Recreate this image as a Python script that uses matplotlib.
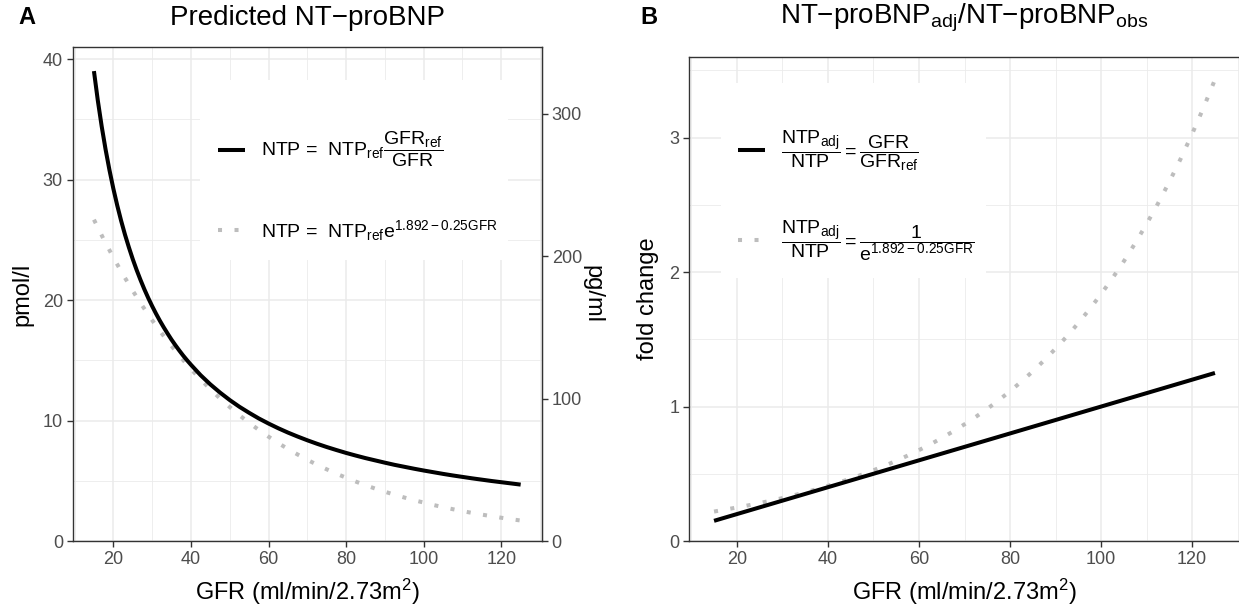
import matplotlib
matplotlib.use("Agg")
import matplotlib.pyplot as plt
from matplotlib.patches import Rectangle

plt.rcParams['font.family'] = ['Liberation Sans', 'DejaVu Sans']
plt.rcParams['mathtext.fontset'] = 'custom'
plt.rcParams['mathtext.rm'] = 'Liberation Sans'
plt.rcParams['mathtext.it'] = 'Liberation Sans'
plt.rcParams['mathtext.default'] = 'regular'

# ---- data ----
gfr_dense = [15, 16, 17, 18, 19, 20, 21, 22, 23, 24, 25, 26, 27, 28, 29, 30, 31, 32,
             33, 34, 35, 36, 37, 38, 39, 40, 42.5, 45, 47.5, 50, 52.5, 55, 57.5, 60,
             62.5, 65, 67.5, 70, 72.5, 75, 77.5, 80, 82.5, 85, 87.5, 90, 92.5, 95,
             97.5, 100, 102.5, 105, 107.5, 110, 112.5, 115, 117.5, 120, 122.5, 125]
ntp_ratio = [39.0, 36.56, 34.41, 32.5, 30.79, 29.25, 27.86, 26.59, 25.43, 24.38,
             23.4, 22.5, 21.67, 20.89, 20.17, 19.5, 18.87, 18.28, 17.73, 17.21,
             16.71, 16.25, 15.81, 15.39, 15.0, 14.63, 13.76, 13.0, 12.32, 11.7,
             11.14, 10.64, 10.17, 9.75, 9.36, 9.0, 8.67, 8.36, 8.07, 7.8, 7.55, 7.31,
             7.09, 6.88, 6.69, 6.5, 6.32, 6.16, 6.0, 5.85, 5.71, 5.57, 5.44, 5.32,
             5.2, 5.09, 4.98, 4.88, 4.78, 4.68]
gfr = [15, 17.5, 20, 22.5, 25, 27.5, 30, 32.5, 35, 37.5, 40, 42.5, 45, 47.5, 50,
       52.5, 55, 57.5, 60, 62.5, 65, 67.5, 70, 72.5, 75, 77.5, 80, 82.5, 85, 87.5,
       90, 92.5, 95, 97.5, 100, 102.5, 105, 107.5, 110, 112.5, 115, 117.5, 120,
       122.5, 125]
ntp_exp = [26.67, 25.05, 23.53, 22.11, 20.77, 19.51, 18.33, 17.22, 16.18, 15.20,
           14.27, 13.41, 12.60, 11.83, 11.12, 10.44, 9.81, 9.22, 8.66, 8.13, 7.64,
           7.18, 6.74, 6.33, 5.95, 5.59, 5.25, 4.93, 4.63, 4.35, 4.09, 3.84, 3.61,
           3.39, 3.19, 2.99, 2.81, 2.64, 2.48, 2.33, 2.19, 2.06, 1.93, 1.81, 1.70]
fold_ratio = [0.15, 0.175, 0.20, 0.225, 0.25, 0.275, 0.30, 0.325, 0.35, 0.375, 0.40,
              0.425, 0.45, 0.475, 0.50, 0.525, 0.55, 0.575, 0.60, 0.625, 0.65, 0.675,
              0.70, 0.725, 0.75, 0.775, 0.80, 0.825, 0.85, 0.875, 0.90, 0.925, 0.95,
              0.975, 1.00, 1.025, 1.05, 1.075, 1.10, 1.125, 1.15, 1.175, 1.20, 1.225, 1.25]
fold_exp = [0.219, 0.234, 0.249, 0.265, 0.282, 0.300, 0.319, 0.340, 0.362, 0.385,
            0.410, 0.436, 0.464, 0.494, 0.526, 0.560, 0.596, 0.635, 0.676, 0.719,
            0.766, 0.815, 0.868, 0.924, 0.983, 1.047, 1.114, 1.186, 1.262, 1.344,
            1.431, 1.523, 1.621, 1.726, 1.837, 1.955, 2.081, 2.216, 2.359, 2.511,
            2.673, 2.845, 3.029, 3.224, 3.432]
x_ticks = [20, 40, 60, 80, 100, 120]
yA_ticks = [0, 10, 20, 30, 40]
yA2_ticks = [0, 100, 200, 300]
yB_ticks = [0, 1, 2, 3]
pg_per_pmol = 8.457

labA1 = r'NTP =  NTP$_{ref}\dfrac{GFR_{ref}}{GFR}$'
labA2 = r'NTP =  NTP$_{ref}$e$^{1.892-0.25GFR}$'
labB1 = r'$\dfrac{NTP_{adj}}{NTP}=\dfrac{GFR}{GFR_{ref}}$'
labB2 = r'$\dfrac{NTP_{adj}}{NTP}=\dfrac{1}{e^{1.892-0.25GFR}}$'

W, H = 1239, 611
fig = plt.figure(figsize=(W / 100, H / 100), dpi=100)

dark = '#333333'
ticklab = '#4D4D4D'
grid_c = '#EBEBEB'
dot_c = '#BDBDBD'


def style(ax, xt, yt, ylim):
    ax.set_xlim(9.5, 130.5)
    ax.set_ylim(*ylim)
    ax.set_xticks(xt)
    ax.set_yticks(yt)
    ax.set_xticks([v + 10 for v in [0] + xt], minor=True)
    ax.grid(which='major', color=grid_c, lw=1.1, zorder=0)
    ax.grid(which='minor', color=grid_c, lw=0.6, zorder=0)
    ax.set_axisbelow(True)
    for s in ax.spines.values():
        s.set_color(dark)
        s.set_linewidth(1.0)
    ax.tick_params(which='major', direction='out', length=4, width=1.0, color=dark,
                   labelcolor=ticklab, labelsize=13, pad=3)
    ax.tick_params(which='minor', length=0)


def legend_bg(ax, x0, y0, x1, y1):
    ax.add_patch(Rectangle((x0, y0), x1 - x0, y1 - y0, transform=ax.transAxes,
                           facecolor='white', edgecolor='none', zorder=1))


# ---------- Panel A ----------
axA = fig.add_axes([72.6 / W, 1 - 541 / H, (542 - 72.6) / W, (541 - 47) / H])
style(axA, x_ticks, yA_ticks, (0, 41.0))
axA.set_yticks([5, 15, 25, 35], minor=True)
lA1, = axA.plot(gfr_dense, ntp_ratio, color='black', lw=2.9, solid_capstyle='butt',
                solid_joinstyle='round', zorder=3)
lA2, = axA.plot(gfr, ntp_exp, color=dot_c, lw=2.9, dashes=(1, 3.1),
                dash_capstyle='butt', zorder=2)
sec = axA.secondary_yaxis('right', functions=(lambda v: v * pg_per_pmol,
                                              lambda v: v / pg_per_pmol))
sec.set_yticks(yA2_ticks)
sec.tick_params(direction='out', length=4, width=1.0, color=dark,
                labelcolor=ticklab, labelsize=13, pad=3)
sec.spines['right'].set_color(dark)
legend_bg(axA, 0.2714, 0.5688, 0.9276, 0.9332)
legA = axA.legend([lA1, lA2], [labA1, labA2], loc='upper left',
                  bbox_to_anchor=(0.3098, 0.832), frameon=False, fontsize=14,
                  handlelength=1.4, handletextpad=0.8, labelspacing=2.5,
                  borderpad=0.0, borderaxespad=0.0)
legA.set_zorder(5)

# ---------- Panel B ----------
axB = fig.add_axes([689 / W, 1 - 541 / H, (1240 - 689) / W, (541 - 57) / H])
style(axB, x_ticks, yB_ticks, (0, 3.6))
axB.set_yticks([0.5, 1.5, 2.5, 3.5], minor=True)
lB1, = axB.plot(gfr, fold_ratio, color='black', lw=2.9, solid_capstyle='butt', zorder=3)
lB2, = axB.plot(gfr, fold_exp, color=dot_c, lw=2.9, dashes=(1, 3.1),
                dash_capstyle='butt', zorder=2)
axB.spines['right'].set_visible(False)
legend_bg(axB, 0.0581, 0.5434, 0.539, 0.9463)
legB = axB.legend([lB1, lB2], [labB1, labB2], loc='upper left',
                  bbox_to_anchor=(0.0889, 0.853), frameon=False, fontsize=14,
                  handlelength=1.4, handletextpad=0.8, labelspacing=2.3,
                  borderpad=0.0, borderaxespad=0.0)
legB.set_zorder(5)

# ---------- texts ----------
def ftext(x, y, s, **kw):
    fig.text(x / W, 1 - y / H, s, **kw)

ftext(18, 18, 'A', fontsize=17, fontweight='bold', ha='left', va='center')
ftext(640, 18, 'B', fontsize=17, fontweight='bold', ha='left', va='center')
ftext(307, 18, 'Predicted NT\u2212proBNP', fontsize=20, ha='center', va='center')
ftext(964, 18, 'NT\u2212proBNP$_{adj}$/NT\u2212proBNP$_{obs}$', fontsize=20,
      ha='center', va='center')
ftext(307, 592, 'GFR (ml/min/2.73m$^{2}$)', fontsize=17, ha='center', va='center')
ftext(964, 592, 'GFR (ml/min/2.73m$^{2}$)', fontsize=17, ha='center', va='center')
ftext(22, 294, 'pmol/l', fontsize=17, rotation=90, ha='center', va='center')
ftext(592, 294, 'pg/ml', fontsize=17, rotation=-90, ha='center', va='center')
ftext(648, 299, 'fold change', fontsize=17, rotation=90, ha='center', va='center')

fig.savefig('out.png', dpi=100, facecolor='white')
